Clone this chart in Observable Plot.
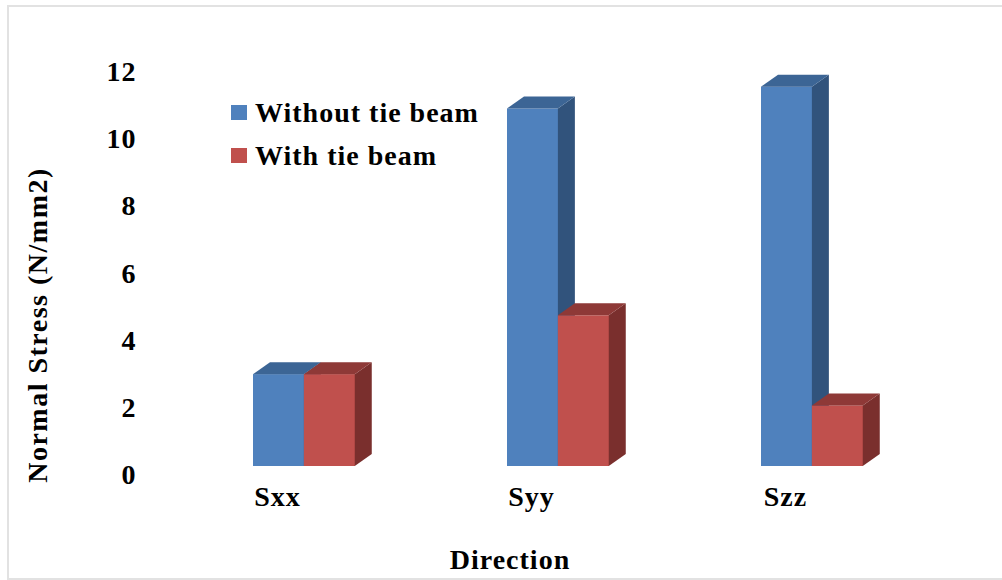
<!DOCTYPE html>
<html>
<head>
<meta charset="utf-8">
<script src="https://cdn.jsdelivr.net/npm/d3@7"></script>
<script src="https://cdn.jsdelivr.net/npm/@observablehq/plot@0.6"></script>
<style>
  body { margin: 0; background: #fff; overflow: hidden; }
  #wrap { position: relative; width: 1002px; height: 580px; overflow: hidden; }
  #frame { position: absolute; left: 7px; top: 5px; width: 1010px; height: 575px;
           border: 2px solid #e2e2e2; box-sizing: border-box; }
  #chart { position: absolute; left: 0; top: 0; }
</style>
</head>
<body>
<div id="wrap"><div id="frame"></div><div id="chart"></div></div>
<script>
// Normal stress per direction, with and without a tie beam
const directions = ["Sxx", "Syy", "Szz"];
const seriesNames = ["Without tie beam", "With tie beam"];
const withoutTieBeam = [3.0, 10.9, 11.55];
const withTieBeam = [3.0, 4.75, 2.07];
const yTicks = [0, 2, 4, 6, 8, 10, 12];

const frontColors = ["#4f81bd", "#c0504d"];
const topColors = ["#3c6595", "#8e3937"];
const sideColors = ["#31537c", "#7a2f2d"];

const FONT = "'Liberation Serif', 'Times New Roman', serif";
const X_RANGE = [125, 990];
const PAD_INNER = 0.6, PAD_OUTER = 0.5;
const step = (X_RANGE[1] - X_RANGE[0]) / (directions.length - PAD_INNER + 2 * PAD_OUTER);
const half = step * (1 - PAD_INNER) / 2;   // each series takes half of a band
const FLOOR = 9;                             // floor lift of the 3-D columns
const DEPTH_X = 17, DEPTH_Y = 12;            // oblique depth of the columns

const rows = directions.map((d, i) => ({direction: d, without: withoutTieBeam[i], with: withTieBeam[i]}));

const plot = Plot.plot({
  width: 1002,
  height: 580,
  marginTop: 71.5,
  marginBottom: 105,
  marginLeft: 140,
  marginRight: 12,
  style: {fontFamily: FONT, fontSize: "28px", fontWeight: "bold", color: "#000",
          background: "transparent", letterSpacing: "1px"},
  x: {domain: directions, range: X_RANGE, paddingInner: PAD_INNER, paddingOuter: PAD_OUTER, axis: null},
  y: {domain: [0, 12], ticks: yTicks, tickSize: 0, tickPadding: 4, label: null},
  marks: [
    Plot.barY(rows, {x: "direction", y: "without", fill: frontColors[0], insetRight: half, insetBottom: FLOOR}),
    Plot.barY(rows, {x: "direction", y: "with", fill: frontColors[1], insetLeft: half, insetBottom: FLOOR}),
    Plot.text(directions, {x: d => d, frameAnchor: "bottom", dy: 30, dx: -27, fill: "#000"})
  ]
});
document.getElementById("chart").appendChild(plot);

// Top and side faces of each column, placed right after that series' front faces
const X = plot.scale("x"), Y = plot.scale("y");
const svg = d3.select(plot);
const barGroups = svg.selectAll('g[aria-label="bar"]').nodes();
[withoutTieBeam, withTieBeam].forEach((vals, s) => {
  const front = barGroups[s];
  const g = document.createElementNS("http://www.w3.org/2000/svg", "g");
  if (front.getAttribute("transform")) g.setAttribute("transform", front.getAttribute("transform"));
  front.after(g);
  const sel = d3.select(g);
  directions.forEach((d, i) => {
    const xl = X.apply(d) + s * half, xr = xl + half;
    const yt = Y.apply(vals[i]), yb = Y.apply(0) - FLOOR;
    const side = [[xr, yt], [xr + DEPTH_X, yt - DEPTH_Y], [xr + DEPTH_X, yb - DEPTH_Y], [xr, yb]];
    const top = [[xl, yt], [xr, yt], [xr + DEPTH_X, yt - DEPTH_Y], [xl + DEPTH_X, yt - DEPTH_Y]];
    sel.append("polygon").attr("points", side.join(" ")).attr("fill", sideColors[s]);
    sel.append("polygon").attr("points", top.join(" ")).attr("fill", topColors[s]);
  });
});

// Legend
const legend = svg.append("g").attr("text-anchor", "start");
seriesNames.forEach((name, s) => {
  legend.append("rect").attr("x", 231).attr("y", 105 + s * 43).attr("width", 16).attr("height", 15)
    .attr("fill", frontColors[s]);
  legend.append("text").attr("x", 255).attr("y", 122 + s * 43).attr("fill", "#000")
    .attr("text-anchor", "start").text(name);
});

// Axis titles
svg.append("text")
  .attr("transform", "translate(37,325) rotate(-90)")
  .attr("text-anchor", "middle").attr("dominant-baseline", "central")
  .attr("fill", "#000").style("letter-spacing", "1.5px")
  .text("Normal Stress (N/mm2)");
svg.append("text")
  .attr("x", 510).attr("y", 569).attr("text-anchor", "middle").attr("fill", "#000")
  .text("Direction");
</script>
</body>
</html>
